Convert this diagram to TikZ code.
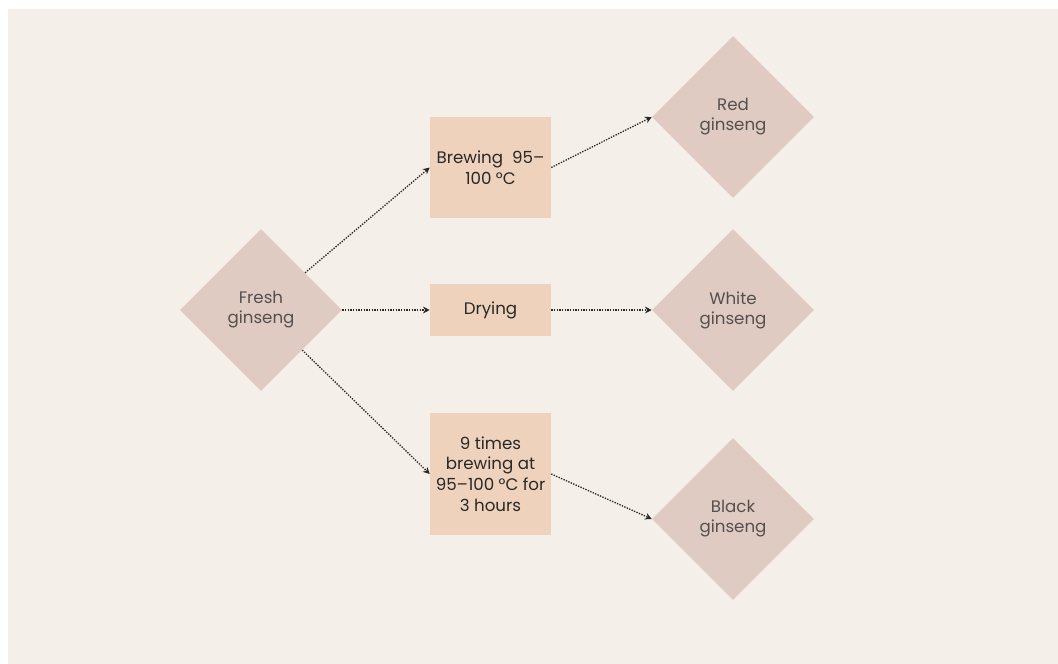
\documentclass[tikz,border=0pt]{standalone}
\usepackage{fontspec}
\setmainfont{Poppins}
\usepackage{tikz}
\usetikzlibrary{arrows.meta,shapes.geometric}
\usepackage{xcolor}
\definecolor{paper}{RGB}{244,239,233}
\definecolor{rootclay}{RGB}{223,203,194}
\definecolor{brewpeach}{RGB}{238,210,188}
\definecolor{inkgrey}{RGB}{40,40,40}
\definecolor{softgrey}{RGB}{85,80,80}

\begin{document}
\begin{tikzpicture}[x=0.75pt,y=-0.75pt,
    stone/.style={diamond,aspect=1,fill=rootclay,inner sep=0pt,
      minimum width=121.5pt,minimum height=121.5pt,
      align=center,text=softgrey,font=\fontsize{12.5}{15}\selectfont},
    procbox/.style={rectangle,fill=brewpeach,inner sep=0pt,
      minimum width=90.75pt,align=center,text=inkgrey,
      font=\fontsize{12.5}{15.5}\selectfont},
    flow/.style={inkgrey,line width=1pt,dash pattern=on 1pt off 1pt,
      -{Stealth[length=5pt,width=5pt]}}]
        % Frame
        \useasboundingbox (0,0) rectangle (1058,664);
        \fill[paper] (8,9) rectangle (1058,664);
        % Raw root
        \node[stone] (fresh) at (261,310) {Fresh\\ginseng};
        % Processing steps
        \node[procbox,minimum height=75.75pt] (brew) at (490.5,167.5)
          {Brewing\ \ 95--\\100 °C};
        \node[procbox,minimum height=39pt] (dry) at (490.5,310)
          {Drying};
        \node[procbox,minimum height=91.5pt] (ninefold) at (490.5,474)
          {9 times\\brewing at\\95--100 °C for\\3 hours};
        % Products
        \node[stone] (red) at (733,117) {Red\\ginseng};
        \node[stone] (white) at (733,310) {White\\ginseng};
        \node[stone] (black) at (733,519) {Black\\ginseng};
        % Arrows
        \draw[flow] (fresh) -- (brew.west);
        \draw[flow] (fresh) -- (dry.west);
        \draw[flow] (fresh) -- (ninefold.west);
        \draw[flow] (brew.east) -- (red.west);
        \draw[flow] (dry.east) -- (white.west);
        \draw[flow] (ninefold.east) -- (black.west);
      \end{tikzpicture}
\end{document}
